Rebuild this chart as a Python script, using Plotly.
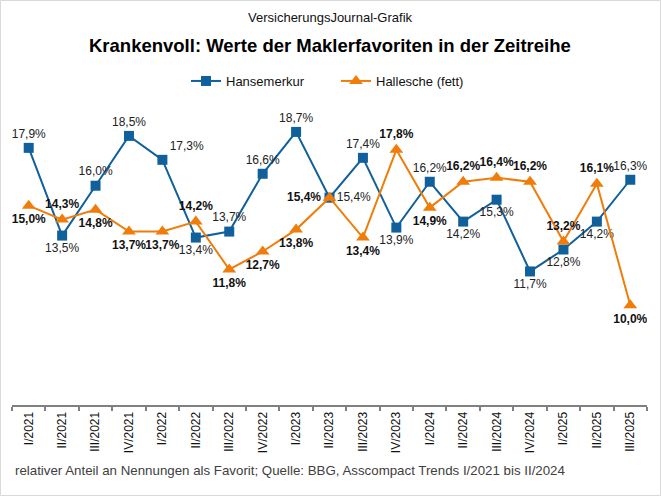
import plotly.graph_objects as go

quarters = ["I/2021", "II/2021", "III/2021", "IV/2021", "I/2022", "II/2022", "III/2022",
            "IV/2022", "I/2023", "II/2023", "III/2023", "IV/2023", "I/2024", "II/2024",
            "III/2024", "IV/2024", "I/2025", "II/2025", "III/2025"]
hansemerkur = [17.9, 13.5, 16.0, 18.5, 17.3, 13.4, 13.7, 16.6, 18.7, 15.4, 17.4, 13.9,
               16.2, 14.2, 15.3, 11.7, 12.8, 14.2, 16.3]
hallesche = [15.0, 14.3, 14.8, 13.7, 13.7, 14.2, 11.8, 12.7, 13.8, 15.4, 13.4, 17.8,
             14.9, 16.2, 16.4, 16.2, 13.2, 16.1, 10.0]

pos_hm = ["top center", "bottom center", "top center", "top center", "top right",
          "bottom center", "top center", "top center", "top center", "middle right",
          "top center", "bottom center", "top center", "bottom center", "bottom center",
          "bottom center", "bottom center", "bottom center", "top center"]
pos_hl = ["bottom center", "top center", "bottom center", "bottom center", "bottom center",
          "top center", "bottom center", "bottom center", "bottom center", "middle left",
          "bottom center", "top center", "bottom center", "top center", "top center",
          "top center", "top center", "top center", "bottom center"]

BLUE = "#10609C"
ORANGE = "#F07C0A"
FONT = "Liberation Sans, Arial, sans-serif"

fig = go.Figure()
fig.add_trace(go.Scatter(
    x=quarters, y=hansemerkur, name="Hansemerkur", mode="lines+markers+text",
    line=dict(color=BLUE, width=2),
    marker=dict(symbol="square", size=10, color=BLUE),
    texttemplate="%{y:.1f}%", textposition=pos_hm,
    textfont=dict(family=FONT, size=12, color="#222222"),
))
fig.add_trace(go.Scatter(
    x=quarters, y=hallesche, name="Hallesche (fett)", mode="lines+markers+text",
    line=dict(color=ORANGE, width=2),
    marker=dict(symbol="triangle-up", size=12, color=ORANGE),
    texttemplate="<b>%{y:.1f}%</b>", textposition=pos_hl,
    textfont=dict(family=FONT, size=12, color="#111111"),
))

L, R, T, B = 12, 14, 106, 91
W, H = 661, 496
pw, ph = W - L - R, H - T - B

fig.update_layout(
    width=W, height=H,
    margin=dict(l=L, r=R, t=T, b=B),
    paper_bgcolor="white", plot_bgcolor="white",
    separators=",.",
    font=dict(family=FONT, size=12, color="#000000"),
    showlegend=True,
    legend=dict(orientation="h", x=(186 - L) / pw, xanchor="left", y=(H - B - 81) / ph,
                yanchor="middle", font=dict(family=FONT, size=13, color="#111111"),
                bgcolor="rgba(0,0,0,0)", itemwidth=30, entrywidth=105,
                entrywidthmode="pixels"),
    xaxis=dict(type="category", showgrid=False, showline=True, linecolor="#808080",
               linewidth=2, ticks="outside", ticklen=4, tickwidth=2, tickcolor="#808080",
               tickson="boundaries", tickangle=-90,
               tickfont=dict(family=FONT, size=12, color="#111111"),
               range=[-0.5, len(quarters) - 0.5], fixedrange=True),
    yaxis=dict(range=[5, 20], showgrid=False, showline=False, showticklabels=False,
               zeroline=False, ticks="", fixedrange=True),
    annotations=[
        dict(text="VersicherungsJournal-Grafik", xref="paper", yref="paper",
             x=(330 - L) / pw, y=(H - B - 18) / ph, xanchor="center", yanchor="middle",
             showarrow=False, font=dict(family=FONT, size=13, color="#111111")),
        dict(text="<b>Krankenvoll: Werte der Maklerfavoriten in der Zeitreihe</b>",
             xref="paper", yref="paper", x=(330 - L) / pw, y=(H - B - 46) / ph,
             xanchor="center", yanchor="middle", showarrow=False,
             font=dict(family=FONT, size=18.5, color="#000000")),
        dict(text="relativer Anteil an Nennungen als Favorit; Quelle: BBG, Asscompact Trends I/2021 bis II/2024",
             xref="paper", yref="paper", x=(13 - L) / pw, y=(H - B - 470) / ph,
             xanchor="left", yanchor="middle", showarrow=False,
             font=dict(family=FONT, size=13.3, color="#404040")),
    ],
    shapes=[
        dict(type="rect", xref="paper", yref="paper",
             x0=(0.5 - L) / pw, x1=(W - 0.5 - L) / pw,
             y0=(H - B - (H - 0.5)) / ph, y1=(H - B - 0.5) / ph,
             line=dict(color="#D9D9D9", width=1), fillcolor="rgba(0,0,0,0)", layer="below"),
    ],
)

fig.write_html("out.html", config={"displayModeBar": False},
               post_script="document.body.style.margin='0';")
